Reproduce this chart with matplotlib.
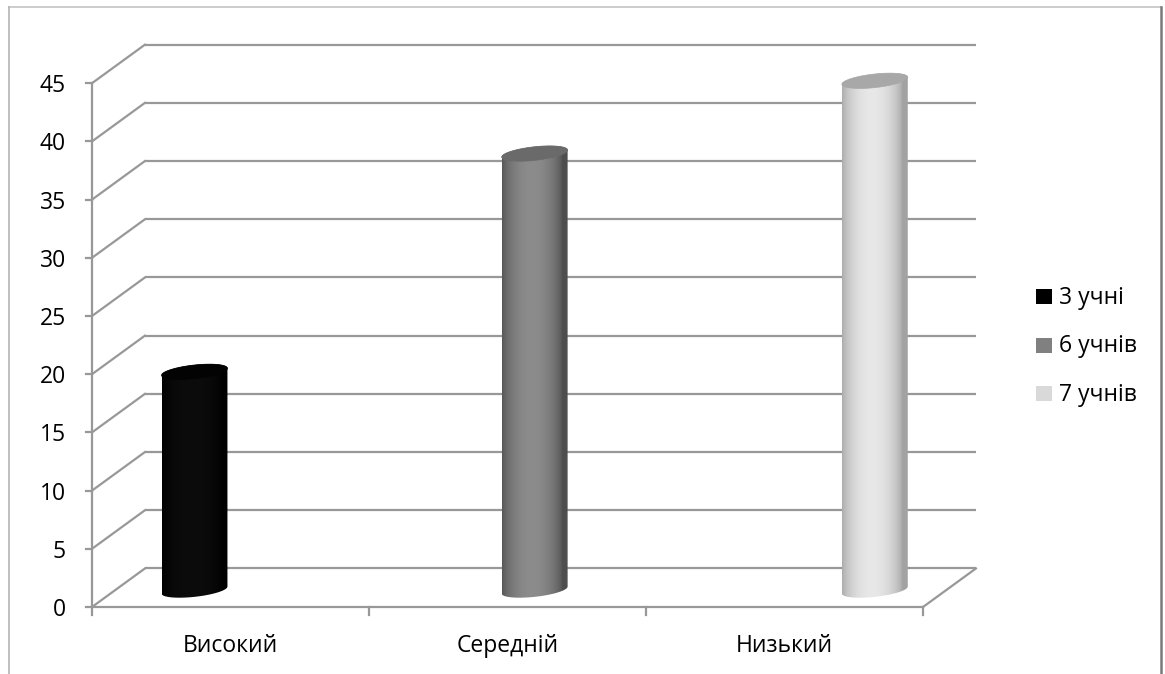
import numpy as np
import matplotlib
matplotlib.use("Agg")
from matplotlib import pyplot as plt
from matplotlib.path import Path
from matplotlib.patches import PathPatch, Rectangle
from matplotlib.transforms import IdentityTransform
from matplotlib.lines import Line2D

plt.rcParams['font.family'] = ['Open Sans', 'DejaVu Sans']

# Chart data
categories = ["Високий", "Середній", "Низький"]
series_names = ["3 учні", "6 учнів", "7 учнів"]
values = [18.75, 37.5, 43.75]
y_ticks = list(range(0, 50, 5))

# Colours: legend swatch, cylinder side (edge, middle), top cap
swatch_colors = ["#000000", "#808080", "#d9d9d9"]
side_edge = ["#000000", "#4e4e4e", "#a2a2a2"]
side_mid = ["#0c0c0c", "#8c8c8c", "#e8e8e8"]
cap_colors = ["#030303", "#6a6a6a", "#a8a8a8"]
grid_color = "#989898"

# 3-D box layout (in axis units)
depth_dx, depth_dy = 0.191, 3.31
bar_start, bar_step, bar_width = 0.37, 1.228, 0.238
bar_depth = 0.44

fig = plt.figure(figsize=(11.65, 6.74), dpi=100)
ax = fig.add_axes([0, 0, 1, 1])
ax.set_xlim(-0.3321, 3.8736)
ax.set_ylim(-5.756, 52.148)
ax.set_autoscale_on(False)
ax.axis("off")

n_cat = len(categories)
ymax = y_ticks[-1]
lw = 1.6

# back wall gridlines and side-wall diagonals
for v in y_ticks:
    ax.plot([depth_dx, n_cat + depth_dx], [v + depth_dy, v + depth_dy],
            color=grid_color, lw=lw, zorder=1, solid_capstyle="butt")
    ax.plot([0, depth_dx], [v, v + depth_dy], color=grid_color, lw=lw, zorder=1)
    ax.plot([-0.022, 0], [v, v], color=grid_color, lw=lw, zorder=1)
    ax.text(-0.094, v - 0.25, str(v), ha="right", va="center", fontsize=16.5)

# floor right edge and axes lines
ax.plot([n_cat, n_cat + depth_dx], [0, depth_dy], color=grid_color, lw=lw, zorder=1)
ax.plot([0, 0], [0, ymax], color=grid_color, lw=lw, zorder=1)
ax.plot([0, n_cat], [0, 0], color=grid_color, lw=lw, zorder=1)
for i in range(n_cat + 1):
    ax.plot([i, i], [0, -0.65], color=grid_color, lw=lw, zorder=1)
for i, name in enumerate(categories):
    ax.text(i + 0.5, -3.87, name, ha="center", va="baseline", fontsize=16.5)


def ellipse_pts(cx, cy, a, b, slope, t):
    return np.column_stack([cx + a * np.cos(t),
                            cy + b * np.sin(t) + a * slope * np.cos(t)])


def gradient_image(edge, mid):
    e = np.array(matplotlib.colors.to_rgb(edge))
    m = np.array(matplotlib.colors.to_rgb(mid))
    u = np.linspace(0, 1, 200)
    w = np.clip(np.sin(np.pi * np.clip(u * 1.08 + 0.01, 0, 1)) ** 0.6, 0, 1)
    img = e[None, :] * (1 - w[:, None]) + m[None, :] * w[:, None]
    return img[None, :, :]


base = bar_depth * depth_dy
for i, val in enumerate(values):
    cx = bar_start + i * bar_step
    (px_l, py_b), (px_r, py_t) = ax.transData.transform(
        [(cx - bar_width / 2, base), (cx + bar_width / 2, base + val)])
    pcx = (px_l + px_r) / 2
    a = (px_r - px_l) / 2
    b, slope = 6.8, 0.106

    t_back = np.linspace(0, np.pi, 60)
    t_front = np.linspace(np.pi, 2 * np.pi, 60)
    top_back = ellipse_pts(pcx, py_t, a, b, slope, t_back)
    bot_front = ellipse_pts(pcx, py_b, a, b, slope, t_front)
    body = np.vstack([top_back, bot_front, top_back[:1]])
    clip = PathPatch(Path(body), transform=IdentityTransform(), facecolor="none",
                     edgecolor="none")
    ax.add_patch(clip)
    im = ax.imshow(gradient_image(side_edge[i], side_mid[i]), aspect="auto",
                   extent=[cx - bar_width / 2, cx + bar_width / 2, base - 2, base + val + 2],
                   interpolation="bilinear", zorder=3)
    im.set_clip_path(clip)

    cap = ellipse_pts(pcx, py_t, a, b, slope, np.linspace(0, 2 * np.pi, 120))
    ax.add_patch(PathPatch(Path(cap), transform=IdentityTransform(),
                           facecolor=cap_colors[i], edgecolor=cap_colors[i],
                           lw=0.5, zorder=4))

# legend
for i, name in enumerate(series_names):
    ty = 304 + i * 48.5
    fig.patches.append(Rectangle((1036 / 1165, 1 - ty / 674), 16 / 1165, 15 / 674,
                                 transform=fig.transFigure, facecolor=swatch_colors[i],
                                 edgecolor="none"))
    fig.text(1059 / 1165, 1 - ty / 674, name, ha="left", va="baseline", fontsize=16.5)

# chart frame
fig.lines.append(Line2D([9 / 1165, 1161 / 1165], [1 - 7 / 674, 1 - 7 / 674],
                        transform=fig.transFigure, color="#c4c4c4", lw=1.2))
fig.lines.append(Line2D([9 / 1165, 9 / 1165], [0, 1 - 7 / 674],
                        transform=fig.transFigure, color="#b4b4b4", lw=1.2))
fig.lines.append(Line2D([1161 / 1165, 1161 / 1165], [0, 1 - 7 / 674],
                        transform=fig.transFigure, color="#7a7a7a", lw=1.8))

fig.savefig("out.png", dpi=100, facecolor="white")
